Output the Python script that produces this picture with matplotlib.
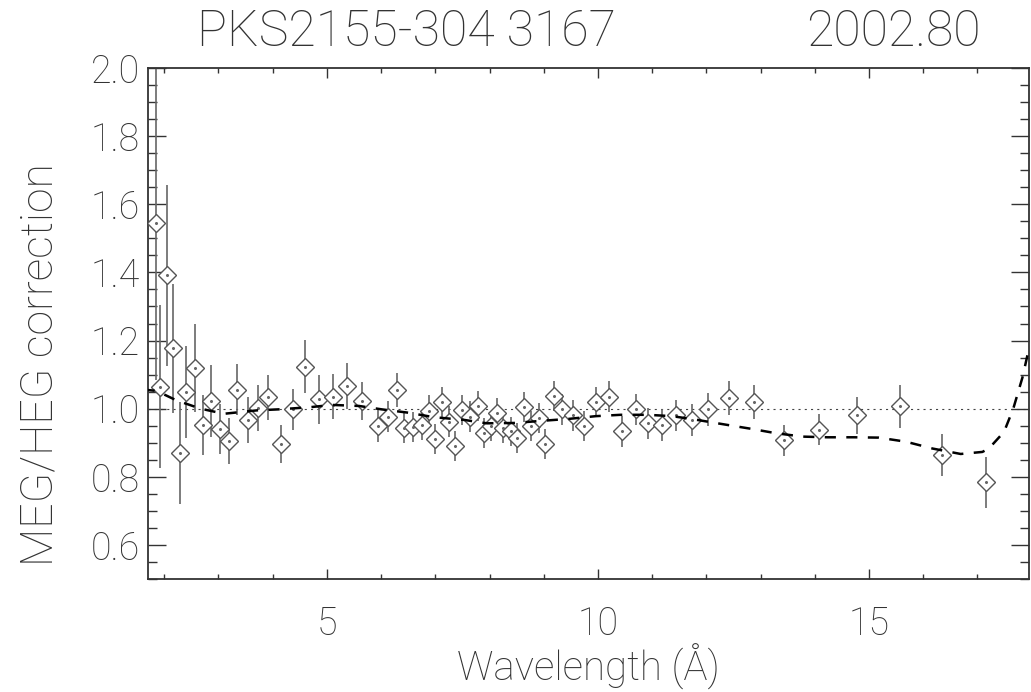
import matplotlib
matplotlib.use("Agg")
import matplotlib.pyplot as plt
from matplotlib.ticker import MultipleLocator, FixedLocator

plt.rcParams['lines.scale_dashes'] = False
plt.rcParams['font.family'] = ['Roboto', 'DejaVu Sans']
plt.rcParams['font.weight'] = 'light'

# ---- data ----
wavelength = [1.84, 1.93, 2.05, 2.17, 2.29, 2.41, 2.56, 2.71, 2.86, 3.03,
              3.19, 3.34, 3.54, 3.73, 3.92, 4.16, 4.37, 4.59, 4.85, 5.12,
              5.37, 5.65, 5.94, 6.13, 6.30, 6.42, 6.59, 6.76, 6.88, 7.00,
              7.13, 7.25, 7.36, 7.50, 7.64, 7.79, 7.90, 8.02, 8.14, 8.25,
              8.39, 8.51, 8.63, 8.76, 8.91, 9.02, 9.18, 9.33, 9.54, 9.74,
              9.97, 10.20, 10.44, 10.70, 10.93, 11.18, 11.44, 11.74, 12.02, 12.42,
              12.87, 13.43, 14.08, 14.77, 15.57, 16.34, 17.16]
ratio = [1.545, 1.065, 1.391, 1.177, 0.871, 1.049, 1.120, 0.953, 1.022, 0.941,
         0.905, 1.055, 0.966, 1.002, 1.034, 0.896, 0.998, 1.123, 1.027, 1.035,
         1.066, 1.022, 0.949, 0.977, 1.054, 0.943, 0.946, 0.952, 0.994, 0.910,
         1.020, 0.962, 0.891, 0.996, 0.977, 1.008, 0.928, 0.949, 0.988, 0.943,
         0.933, 0.913, 1.004, 0.949, 0.972, 0.896, 1.037, 0.998, 0.980, 0.949,
         1.020, 1.035, 0.933, 0.998, 0.957, 0.952, 0.980, 0.966, 0.998, 1.030,
         1.020, 0.907, 0.938, 0.980, 1.007, 0.864, 0.784]
ratio_err = [0.460, 0.240, 0.265, 0.190, 0.150, 0.135, 0.130, 0.088, 0.105, 0.073,
             0.068, 0.075, 0.067, 0.067, 0.066, 0.055, 0.060, 0.078, 0.072, 0.066,
             0.068, 0.055, 0.046, 0.046, 0.050, 0.045, 0.045, 0.045, 0.047, 0.044,
             0.045, 0.045, 0.044, 0.045, 0.045, 0.044, 0.044, 0.044, 0.044, 0.044,
             0.044, 0.044, 0.044, 0.044, 0.044, 0.044, 0.045, 0.045, 0.045, 0.045,
             0.045, 0.046, 0.046, 0.046, 0.046, 0.046, 0.046, 0.047, 0.048, 0.050,
             0.050, 0.045, 0.046, 0.053, 0.063, 0.062, 0.075]

curve_x = [1.62, 1.86, 2.23, 2.67, 3.10, 3.71, 4.11, 4.67, 5.09, 5.59,
           6.01, 6.51, 6.97, 7.53, 7.95, 8.45, 8.94, 9.46, 9.96, 10.42,
           10.91, 11.37, 11.83, 12.32, 12.82, 13.28, 13.77, 14.23, 14.72, 15.18,
           15.68, 16.17, 16.69, 17.09, 17.21, 17.49, 17.66, 17.83, 17.92, 17.98]
curve_y = [1.056, 1.052, 1.024, 1.000, 0.985, 0.995, 0.998, 1.004, 1.011, 1.008,
           0.998, 0.988, 0.975, 0.967, 0.957, 0.958, 0.964, 0.970, 0.978, 0.982,
           0.982, 0.978, 0.967, 0.954, 0.941, 0.928, 0.918, 0.916, 0.916, 0.915,
           0.903, 0.883, 0.867, 0.873, 0.883, 0.932, 1.000, 1.092, 1.156, 1.190]

x_ticks = [5, 10, 15]
y_ticks = [0.6, 0.8, 1.0, 1.2, 1.4, 1.6, 1.8, 2.0]
title_left = "PKS2155-304 3167"
title_right = "2002.80"
x_label = "Wavelength (Å)"
y_label = "MEG/HEG correction"

# ---- figure ----
W, H = 1031, 692
fig = plt.figure(figsize=(W / 100, H / 100), dpi=100)
ax = fig.add_axes([148 / W, 1 - 579 / H, (1029 - 148) / W, (579 - 68) / H])

xmin, xmax = 1.7, 17.95
ax.set_xlim(xmin, xmax)
ax.set_ylim(0.5, 2.0)

txt = '#333333'
mk = '#555555'

ax.plot([xmin, xmax], [1.0, 1.0], color='#444444', lw=0.8, dashes=(1.5, 3.0), zorder=1)
ax.plot(curve_x, curve_y, color='black', lw=1.8, dashes=(8.0, 7.5), zorder=4)

ax.errorbar(wavelength, ratio, yerr=ratio_err, fmt='none', ecolor='#666666',
            elinewidth=1.2, capsize=0, zorder=2)
ax.plot(wavelength, ratio, linestyle='none', marker='D', markersize=9.5,
        markerfacecolor='white', markeredgecolor=mk, markeredgewidth=1.0, zorder=3)
ax.plot(wavelength, ratio, linestyle='none', marker='o', markersize=1.2,
        color='#666666', zorder=3.5)

for s in ax.spines.values():
    s.set_linewidth(1.3)
    s.set_color('#333333')

ax.xaxis.set_major_locator(FixedLocator(x_ticks))
ax.xaxis.set_minor_locator(MultipleLocator(1))
ax.yaxis.set_major_locator(FixedLocator(y_ticks))
ax.yaxis.set_minor_locator(MultipleLocator(0.05))
ax.set_yticklabels([f"{v:.1f}" for v in y_ticks])
ax.set_xticklabels([str(v) for v in x_ticks])

ax.tick_params(axis='x', which='major', direction='in', length=7.2, width=1.0,
               top=True, bottom=True, pad=19, labelsize=27, colors='#333333')
ax.tick_params(axis='x', which='minor', direction='in', length=3.6, width=1.0,
               top=True, bottom=True, colors='#333333')
ax.tick_params(axis='y', which='major', direction='in', length=13, width=1.0,
               left=True, right=True, pad=6, labelsize=27, colors='#333333')
ax.tick_params(axis='y', which='minor', direction='in', length=6.5, width=1.0,
               left=True, right=True, colors='#333333')

fig.text(588 / W, 1 - 667 / H, x_label, ha='center', va='center', fontsize=29, color=txt)
fig.text(40 / W, 1 - 365 / H, y_label, ha='center', va='center', rotation=90,
         fontsize=32, color=txt)
fig.text(197 / W, 1 - 32 / H, title_left, ha='left', va='center', fontsize=36, color=txt)
fig.text(981 / W, 1 - 32 / H, title_right, ha='right', va='center', fontsize=36, color=txt)

fig.savefig("out.png", dpi=100)
